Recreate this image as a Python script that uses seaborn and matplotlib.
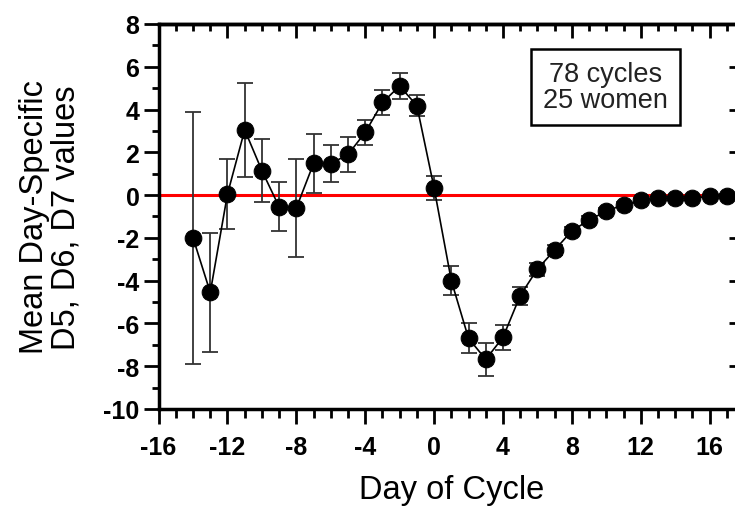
"""Mean day-specific D5/D6/D7 values across the cycle, with error bars."""
import matplotlib
matplotlib.use("Agg")
import matplotlib.pyplot as plt
from matplotlib.ticker import MultipleLocator
import pandas as pd
import seaborn as sns

days = [-14, -13, -12, -11, -10, -9, -8, -7, -6, -5, -4, -3, -2, -1, 0,
        1, 2, 3, 4, 5, 6, 7, 8, 9, 10, 11, 12, 13, 14, 15, 16, 17]
means = [-2.0, -4.55, 0.05, 3.05, 1.14, -0.55, -0.6, 1.48, 1.47, 1.9, 2.93,
         4.33, 5.1, 4.18, 0.33, -4.0, -6.7, -7.68, -6.65, -4.7, -3.46, -2.57,
         -1.67, -1.17, -0.75, -0.45, -0.25, -0.15, -0.15, -0.15, -0.05, -0.02]
errors = [5.9, 2.8, 1.65, 2.2, 1.48, 1.15, 2.3, 1.38, 0.87, 0.82, 0.57, 0.6,
          0.6, 0.5, 0.56, 0.68, 0.7, 0.78, 0.57, 0.42, 0.3, 0.25, 0.2, 0.18,
          0.15, 0.12, 0.1, 0.08, 0.07, 0.06, 0.05, 0.05]
note = "78 cycles\n25 women"

df = pd.DataFrame({"day": days, "mean": means, "err": errors})

sns.set_theme(style="ticks")
plt.rcParams["font.family"] = ["Liberation Sans", "DejaVu Sans"]
plt.rcParams["axes.unicode_minus"] = False
for key in ("text.color", "axes.labelcolor", "xtick.color", "ytick.color",
            "axes.edgecolor"):
    plt.rcParams[key] = "black"

fig = plt.figure(figsize=(7.35, 5.1), dpi=100)
ax = fig.add_axes([0.2158, 0.1961, 0.7965, 0.7549])

ax.axhline(0, color="red", lw=2.2, zorder=1)
ax.errorbar(df["day"], df["mean"], yerr=df["err"], fmt="none",
            ecolor="#333333", elinewidth=1.3, capsize=6, capthick=1.3, zorder=2)
sns.lineplot(data=df, x="day", y="mean", color="black", lw=1.2,
             marker="o", markersize=12, markeredgecolor="black",
             ax=ax, zorder=3)

ax.set_xlim(-16, 18)
ax.set_ylim(-10, 8)
ax.xaxis.set_major_locator(MultipleLocator(4))
ax.xaxis.set_minor_locator(MultipleLocator(1))
ax.yaxis.set_major_locator(MultipleLocator(2))
ax.yaxis.set_minor_locator(MultipleLocator(1))

for side in ax.spines:
    ax.spines[side].set_linewidth(2.5)

ax.tick_params(which="both", direction="out", width=2,
               top=False, right=False)
ax.tick_params(axis="x", which="major", length=10.8, pad=8)
ax.tick_params(axis="x", which="minor", length=6.5)
ax.tick_params(axis="y", which="major", length=10.8, pad=3)
ax.tick_params(axis="y", which="minor", length=5)
for lab in ax.get_xticklabels() + ax.get_yticklabels():
    lab.set_fontweight("bold")
    lab.set_fontsize(18)

# inward ticks on the top and right frame
top = ax.secondary_xaxis("top")
top.xaxis.set_major_locator(MultipleLocator(4))
top.xaxis.set_minor_locator(MultipleLocator(1))
top.tick_params(which="both", direction="in", width=2, labeltop=False)
top.tick_params(which="major", length=10)
top.tick_params(which="minor", length=5)
right = ax.secondary_yaxis("right")
right.yaxis.set_major_locator(MultipleLocator(2))
right.yaxis.set_minor_locator(MultipleLocator(1))
right.tick_params(which="both", direction="in", width=2, labelright=False)
right.tick_params(which="major", length=10.8)
right.tick_params(which="minor", length=5)
for sec in (top, right):
    for side in sec.spines:
        sec.spines[side].set_linewidth(2.5)

ax.set_xlabel("Day of Cycle", fontsize=23.5, labelpad=11)
ax.set_ylabel("Mean Day-Specific\nD5, D6, D7 values", fontsize=23.5,
              linespacing=1.05)
ax.yaxis.set_label_coords(-0.131, 0.5)

ax.text(9.94, 5.05, note, ha="center", va="center", fontsize=19.5,
        linespacing=1.0, color="#222222",
        bbox=dict(boxstyle="square,pad=0.45", fc="white", ec="black", lw=1.8))

fig.savefig("out.png", dpi=100)
